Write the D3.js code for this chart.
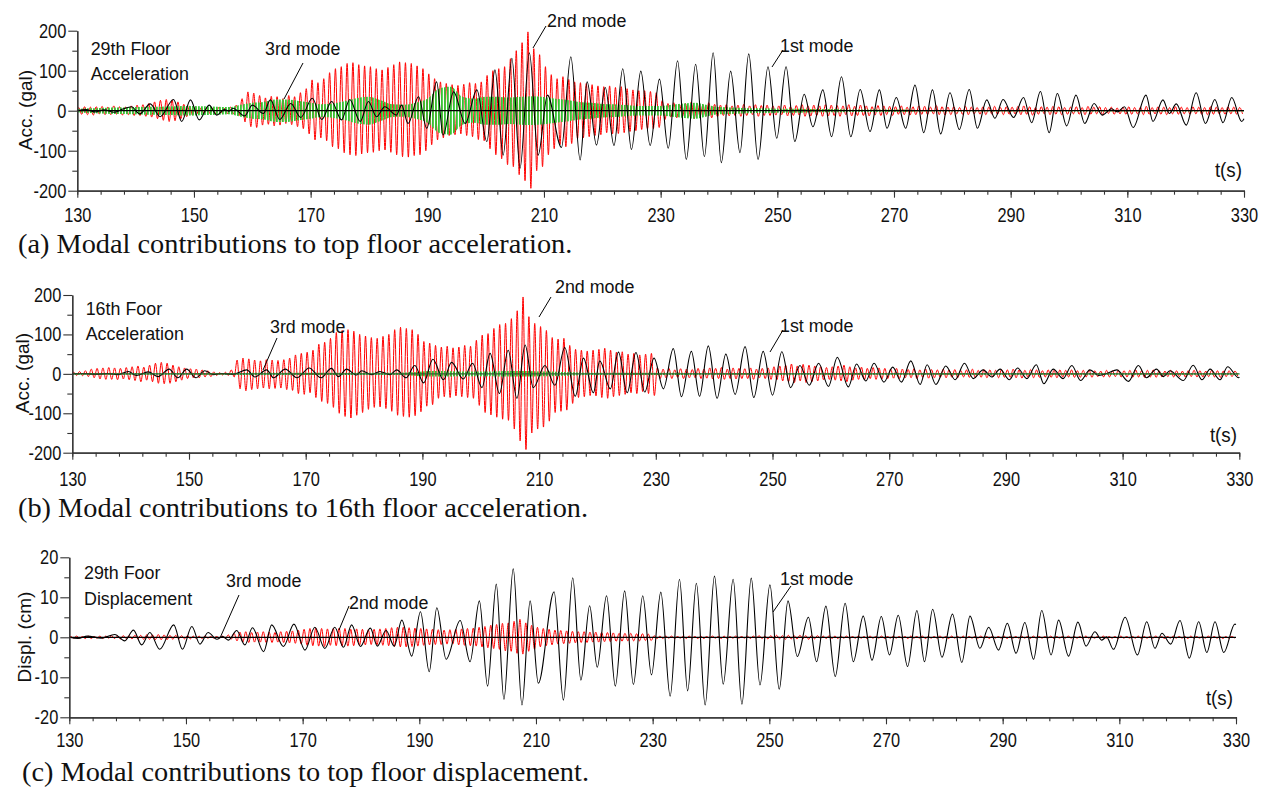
<!DOCTYPE html>
<html lang="en">
<head>
<meta charset="UTF-8">
<title>Modal contributions</title>
<script src="https://cdnjs.cloudflare.com/ajax/libs/d3/7.8.5/d3.min.js"></script>
<style>
  body { margin: 0; background: #fff; }
  svg { display: block; }
  .sans { font-family: "Liberation Sans", Arial, sans-serif; fill: #111; }
  .caption { font-family: "Liberation Serif", "Times New Roman", serif; fill: #111; }
</style>
</head>
<body>
<div id="chart"></div>
<script>
// ---- axes ----
var X_DOMAIN = [130, 330];
var X_LABELS = [130, 150, 170, 190, 210, 230, 250, 270, 290, 310, 330];
var ACC_DOMAIN = [-200, 200];
var ACC_TICKS = [-200, -100, 0, 100, 200];
var ACC_MINOR = [-150, -50, 50, 150];
var DISP_DOMAIN = [-20, 20];
var DISP_TICKS = [-20, -10, 0, 10, 20];
var DISP_MINOR = [-15, -5, 5, 15];

// ---- 1st mode (black): extremes, [t, value] ----
var blackA = [[130,0],[131.5,3],[133,-3],[134.6,2],[136.3,-4],[137.8,4],[139.3,10],[140.7,-8],[142.5,17],[144.2,-15],
  [146.5,28],[147.9,-27],[149.4,27],[150.9,-23],[152.6,14],[153.9,-11],[155.2,3],[156,-1],[156.7,6],[158.7,-13],
  [160,14],[161.9,-7],[163.1,27],[164.7,-22],[166.6,18],[168.3,-17],[170.3,31],[171.9,-22],[173.6,23],[175.3,-23],
  [176.7,28],[178.5,-27],[179.9,23],[181.3,-15],[182.7,10],[184.7,-11],[185.6,14],[186.7,-32],[188.5,35],[189.9,-44],
  [191.6,72],[192.7,-61],[194.5,47],[196.5,-32],[198.5,52],[200.2,-77],[201.6,102],[203,-111],[204.5,131],[205.9,-144],
  [207.5,145],[209,-111],[210.6,39],[213,-92],[214.6,135],[216.2,-123],[217.4,72],[219,-86],[220.5,58],[222,-87],
  [223.5,105],[225,-97],[226.6,99],[228.2,-87],[229.8,79],[231.3,-94],[232.9,125],[234.4,-122],[236,116],[237.5,-115],
  [239,145],[240.4,-130],[242,99],[243.6,-105],[245.1,142],[246.7,-122],[248.4,110],[249.9,-69],[251.5,110],[253,-77],
  [254.6,41],[256.1,-40],[257.8,52],[259.3,-65],[261,85],[262.6,-65],[264.2,53],[265.9,-52],[267.5,52],[268.8,-44],
  [270.4,33],[272,-44],[273.6,64],[275.1,-55],[276.6,52],[278,-58],[279.6,45],[281.2,-47],[282.9,53],[284.3,-44],
  [285.9,27],[287.3,-19],[288.7,28],[290.5,-17],[292.2,33],[293.6,-30],[295.1,48],[296.6,-55],[298,43],[299.6,-38],
  [301.2,39],[302.7,-32],[304.3,18],[305.7,-11],[307.3,5],[308.3,-3],[309.5,10],[311,-42],[313.2,39],[314.4,-27],
  [316.1,27],[317.2,-7],[318.4,17],[320.1,-36],[321.8,45],[323.4,-32],[325,28],[326.4,-30],[327.9,33],[329.6,-27],[330,-20]];

var blackB = [[130,0],[132,1],[134,-1],[136,1],[137.8,-2],[139.6,6],[141,-4],[143,5],[144.7,-7],[146.6,12],
  [148.1,-10],[149.6,12],[151.2,-10],[152.7,8],[154.2,-2],[155.5,1],[157.6,-1],[159.9,10],[161.3,-8],[163.3,10],
  [164.5,-10],[166.5,12],[168.5,-10],[170.6,15],[172.6,-10],[174.4,14],[175.6,-7],[177,12],[178.7,-3],[179.6,8],
  [181.3,-2],[182.7,6],[184.4,-2],[185.6,10],[187.2,-10],[188.7,21],[190.2,-23],[191.8,37],[193.6,-15],[195,29],
  [197,-13],[198.6,27],[200.2,-35],[201.6,52],[203.2,-50],[204.7,60],[206.2,-62],[207.6,73],[209,-35],[211,21],
  [212.7,-29],[214.4,67],[216.2,-57],[217.6,40],[219.3,-48],[220.4,33],[222.2,-38],[223.6,55],[225.1,-48],[226.6,54],
  [228.1,-46],[229.7,40],[231.3,-38],[233,64],[234.4,-58],[236.1,57],[237.5,-57],[239,71],[240.5,-62],[242,50],
  [243.6,-52],[245.3,69],[246.8,-60],[248.4,57],[250,-54],[251.6,56],[253.1,-35],[254.7,21],[256.3,-29],[257.9,27],
  [259.6,-32],[261.1,42],[263,-33],[264.4,25],[266,-18],[267.4,27],[269.1,-21],[270.6,17],[272.1,-21],[273.7,33],
  [275.3,-27],[276.5,23],[278,-27],[279.7,20],[281.3,-15],[282.9,27],[284.4,-12],[286.1,10],[287.6,-8],[289,12],
  [290.6,-15],[292,15],[293.6,-12],[295.2,23],[296.5,-25],[298.1,12],[299.8,-12],[301.3,21],[302.8,-17],[304.4,10],
  [305.9,-4],[307.6,3],[309,10],[311,-19],[312.7,21],[314.1,-10],[315.8,12],[317,-7],[318.1,8],[320.4,-17],
  [322.1,22],[323.6,-15],[325,12],[326.7,-15],[328,18],[329.9,-10],[330,-8]];

var blackC = [[130,0],[131.5,-0.3],[133.1,0.3],[135.5,-0.2],[137.8,0.7],[139.5,-0.9],[141,1.8],[142.4,-1.9],[143.8,1.2],[145.5,-3],
  [147.9,3.1],[149.4,-3],[151,2.7],[152.4,-1.7],[153.8,1.2],[155.3,-0.5],[156.3,0.2],[157.3,-0.7],[158.7,1.7],[160.1,-1.9],
  [161.4,2.4],[163.3,-3.6],[164.7,3.1],[166.7,-2.3],[168.5,3.3],[170.4,-3.2],[172.1,2.5],[173.8,-2.8],[175.5,2.5],[177,-2.5],
  [178.4,3.1],[179.9,-2.3],[181.6,2.3],[182.8,-2.2],[184.3,1.7],[185.7,-2.2],[187,4.3],[188.7,-4.7],[190.2,6.4],[191.7,-8.6],
  [193,7.4],[194.6,-5.5],[197,4.2],[198.7,-6.1],[200.3,9.1],[201.7,-12.2],[203.2,13.3],[204.5,-15.5],[206.1,17.1],[207.6,-16.9],
  [209,9.1],[210.4,-11.5],[213.1,11.4],[214.7,-15.7],[216.3,14.9],[217.7,-10.7],[219.2,7.9],[220.5,-7.5],[222.1,10.4],[223.6,-12.2],
  [225.2,11.6],[226.7,-11.8],[228.3,10.4],[229.8,-9.4],[231.4,11.3],[233,-14.7],[234.6,14.5],[236,-13.4],[237.5,13.5],[239,-16.9],
  [240.6,15.3],[242.1,-11.7],[243.8,14.5],[245.3,-16.7],[246.9,14.8],[248.4,-11.9],[250.1,13.1],[251.7,-13],[253.2,9.1],[254.8,-4.8],
  [256.7,5],[258.1,-6.1],[259.7,7.8],[261.3,-9.8],[263,8.5],[264.4,-6.1],[266.1,5.3],[267.6,-5.7],[269.2,5.2],[270.6,-4.4],
  [272.1,5.5],[273.7,-7.3],[275.3,6.7],[276.6,-6.1],[278,7],[279.6,-5],[281.4,5.8],[283,-6.3],[284.4,5.3],[286.1,-2.75],
  [287.6,2.5],[289.3,-3.2],[290.8,3.5],[292.3,-4],[293.8,3.7],[295.3,-5.5],[296.7,6.7],[298.3,-4.4],[299.6,4.3],[301.3,-4.7],
  [302.9,3.8],[304.3,-2.2],[305.8,1.4],[307,-0.7],[307.8,0.1],[309,-3],[311,5],[313.1,-4.4],[314.7,3.9],[316.1,-2.75],
  [317.3,1],[318.8,-1.7],[320.4,4.2],[322,-5.2],[323.6,3.9],[325,-3.8],[326.4,3.9],[327.9,-3.8],[329.8,3.3],[330,3.2]];

// ---- 2nd mode (red): successive peak / trough per cycle, starting 130.25 s, one every 0.5 s ----
var RED_T0 = 130.25, RED_STEP = 0.5;
var redA = [
  8,-9,10,-10,9,-11,10,-8,11,-10,9,-10,12,-9,10,-11,9,-10,12,-12,
  14,-12,15,-14,18,-16,22,-20,26,-24,28,-27,27,-25,22,-20,16,-15,12,-11,
  10,-9,8,-8,9,-7,7,-8,8,-6,6,-7,9,-8,14,-12,30,-28,47,-40,
  44,-42,38,-36,32,-34,36,-38,35,-36,30,-32,38,-35,35,-40,45,-45,55,-58,
  77,-73,70,-68,80,-75,95,-90,105,-95,110,-105,118,-110,120,-112,115,-108,112,-105,
  110,-104,105,-100,102,-98,108,-104,115,-110,122,-115,120,-116,118,-112,112,-110,105,-100,
  92,-85,80,-73,72,-68,68,-62,65,-60,63,-58,66,-62,70,-65,68,-72,72,-75,
  88,-95,100,-110,105,-120,110,-135,130,-140,150,-160,170,-175,197,-194,155,-150,140,-140,
  110,-110,90,-95,80,-85,85,-90,78,-82,72,-70,70,-68,68,-65,65,-62,62,-60,
  60,-55,62,-58,58,-57,60,-55,55,-52,52,-50,50,-47,50,-45,48,-45,45,-42,
  25,-22,18,-16,20,-18,15,-14,18,-16,22,-20,18,-15,15,-14,20,-18,16,-15,
  14,-12,15,-13,12,-12,14,-14,16,-12,12,-10,15,-14,13,-12,14,-12,12,-11,
  12,-10,14,-13,10,-12,13,-11,15,-14,12,-13,14,-12,12,-14,15,-13,14,-12,
  13,-14,12,-10,15,-13,11,-12,14,-12,12,-13,10,-11,13,-12,12,-10,11,-12,
  10,-9,12,-10,9,-11,10,-10,12,-9,11,-10,9,-8,13,-10,10,-11,9,-10,
  10,-8,8,-9,11,-10,9,-8,8,-9,10,-10,9,-8,11,-9,8,-10,10,-9,
  9,-8,11,-10,12,-9,10,-11,8,-9,10,-8,9,-10,11,-9,10,-10,8,-9,
  9,-8,10,-9,8,-10,11,-9,9,-8,10,-10,8,-7,9,-9,7,-8,9,-9,
  10,-9,8,-8,9,-10,11,-9,8,-8,10,-9,9,-10,8,-8,10,-9,9,-8,
  8,-9,10,-8,9,-9,8,-10,10,-9,9,-8,8,-9,10,-8,9,-9,8,-8];

var redB = [
  4,-4,6,-5,8,-7,12,-10,14,-13,15,-14,16,-14,15,-15,14,-13,16,-15,
  18,-17,20,-20,17,-16,22,-20,27,-24,29,-25,27,-24,22,-20,18,-16,15,-12,
  13,-10,12,-10,10,-8,8,-7,5,-4,3,-3,4,-4,10,-8,35,-38,40,-43,
  38,-40,35,-38,33,-36,36,-38,35,-37,34,-36,36,-40,40,-42,48,-50,52,-52,
  55,-48,60,-60,75,-70,80,-75,90,-85,105,-100,110,-108,112,-112,108,-105,100,-98,
  96,-90,92,-85,90,-84,95,-88,100,-95,112,-105,118,-108,115,-110,112,-106,100,-96,
  82,-82,78,-78,72,-62,68,-58,70,-60,66,-56,68,-58,72,-60,70,-62,85,-80,
  98,-98,102,-104,115,-110,125,-115,128,-118,140,-140,160,-170,195,-192,145,-150,128,-140,
  120,-135,110,-120,92,-98,88,-95,90,-92,72,-75,62,-60,60,-58,58,-55,60,-56,
  62,-60,65,-62,60,-58,55,-55,56,-52,50,-48,52,-50,48,-45,50,-50,52,-55,
  15,-12,12,-10,14,-12,10,-9,13,-12,12,-10,11,-10,14,-12,12,-11,15,-13,
  14,-12,16,-14,12,-12,15,-13,14,-12,13,-12,15,-14,12,-10,14,-12,15,-14,
  18,-15,20,-18,22,-20,25,-22,20,-18,24,-22,22,-20,20,-18,18,-15,16,-14,
  18,-16,20,-18,22,-20,18,-16,15,-14,17,-15,14,-12,16,-14,15,-13,14,-12,
  12,-11,14,-12,12,-10,11,-10,13,-12,10,-9,12,-11,11,-10,10,-9,12,-10,
  10,-9,11,-10,9,-8,10,-9,12,-10,9,-9,11,-10,10,-8,9,-10,11,-9,
  10,-9,12,-10,10,-11,9,-8,11,-10,10,-9,8,-8,10,-9,9,-10,10,-8,
  9,-8,10,-9,8,-9,9,-8,10,-9,8,-7,7,-8,9,-8,8,-7,9,-8,
  8,-8,9,-9,10,-8,8,-9,9,-8,10,-9,8,-8,7,-7,9,-8,8,-7,
  7,-8,8,-7,9,-8,8,-8,7,-7,9,-8,8,-9,7,-7,8,-7,7,-6];

var redC = [
  .2,-.2,.3,-.2,.2,-.3,.3,-.3,.2,-.2,.3,-.3,.3,-.2,.4,-.3,.3,-.4,.4,-.3,
  .4,-.4,.5,-.4,.5,-.5,.6,-.5,.6,-.6,.7,-.6,.6,-.6,.5,-.5,.5,-.4,.4,-.4,
  .4,-.4,.3,-.3,.3,-.3,.3,-.2,.2,-.2,.2,-.2,.3,-.3,.6,-.5,1,-.9,1.3,-1.2,
  1.4,-1.3,1.2,-1.2,1.3,-1.2,1.4,-1.3,1.3,-1.3,1.2,-1.2,1.4,-1.3,1.5,-1.4,1.6,-1.5,1.8,-1.7,
  2,-2,2.2,-2.1,2.3,-2.2,2.2,-2.3,2.1,-2,2.2,-2.1,2.3,-2.2,2.2,-2.2,2,-2.1,2.1,-2,
  2,-1.9,1.9,-1.8,2,-1.9,2.1,-2,2.2,-2.1,2.4,-2.3,2.5,-2.4,2.5,-2.4,2.4,-2.3,2.3,-2.2,
  2.2,-2,2.1,-1.9,2,-1.8,1.9,-1.8,1.8,-1.7,1.9,-1.7,2,-1.9,2.1,-2,2.2,-2.1,2.3,-2.2,
  2.5,-2.4,2.7,-2.6,3,-2.8,3.2,-3,3.5,-3.4,3.6,-3.5,4,-4,4.5,-4.2,3.6,-3.5,3,-3,
  2.5,-2.4,2.2,-2.1,2,-1.9,1.8,-1.7,1.7,-1.6,1.6,-1.5,1.5,-1.4,1.4,-1.3,1.4,-1.3,1.3,-1.2,
  1.3,-1.2,1.2,-1.1,1.2,-1.1,1.1,-1,1,-1,1,-.9,1,-.9,.9,-.9,.9,-.8,.8,-.8,
  .4,-.3,.3,-.3,.3,-.2,.3,-.3,.2,-.2,.3,-.3,.3,-.2,.2,-.3,.3,-.3,.2,-.2,
  .3,-.2,.2,-.3,.3,-.3,.2,-.2,.3,-.2,.2,-.2,.3,-.3,.3,-.2,.4,-.3,.3,-.4,
  .4,-.3,.5,-.4,.4,-.5,.5,-.4,.4,-.4,.5,-.4,.4,-.5,.5,-.4,.4,-.3,.3,-.3,
  .4,-.3,.3,-.3,.3,-.2,.3,-.3,.2,-.2,.3,-.2,.2,-.3,.3,-.2,.2,-.2,.3,-.3,
  .2,-.2,.3,-.2,.2,-.2,.2,-.3,.3,-.2,.2,-.2,.3,-.3,.2,-.2,.2,-.2,.3,-.2,
  .2,-.3,.3,-.2,.2,-.2,.3,-.3,.2,-.2,.2,-.2,.3,-.2,.2,-.3,.3,-.2,.2,-.2,
  .3,-.3,.2,-.2,.2,-.2,.3,-.2,.2,-.3,.3,-.2,.2,-.2,.2,-.2,.3,-.3,.2,-.2,
  .2,-.2,.3,-.2,.2,-.2,.2,-.3,.3,-.2,.2,-.2,.2,-.2,.3,-.2,.2,-.2,.2,-.3,
  .3,-.2,.2,-.2,.2,-.2,.3,-.3,.2,-.2,.2,-.2,.3,-.2,.2,-.3,.2,-.2,.3,-.2,
  .2,-.2,.2,-.3,.3,-.2,.2,-.2,.2,-.2,.3,-.2,.2,-.2,.2,-.3,.2,-.2,.2,-.2];

// ---- 3rd mode (green): amplitude of the dense band, one value every 2 s from 130 s ----
var GREEN_T0 = 130, GREEN_STEP = 2;
var greenA = [
  4,6,7,8,8,9,10,10,11,12,
  12,11,10,9,15,20,22,28,28,24,
  20,16,18,24,32,35,26,16,15,20,
  30,55,60,35,30,35,35,33,35,36,
  34,30,27,22,20,17,16,14,12,12,
  12,15,18,20,14,9,8,7,6,6,
  5,5,5,4,4,4,3,3,3,3,
  3,3,2,2,2,2,2,2,2,2,
  2,2,2,2,2,2,2,2,2,2,
  2,2,2,2,2,2,2,2,2,2,
  2];
var greenB = [
  2,2,2,2,2,2,2,2,2,2,
  2,2,2,2,2,3,3,3,3,3,
  3,3,3,3,3,3,3,3,3,4,
  6,7,7,6,6,6,6,7,7,7,
  6,6,5,4,3,3,3,3,3,3,
  3,3,3,2,2,2,2,2,2,2,
  2,2,2,2,2,2,2,2,2,2,
  2,2,2,2,2,2,2,2,2,2,
  2,2,2,2,2,2,2,2,2,2,
  2,2,2,2,2,2,2,2,2,2,
  2];

// ---- texts ----
var CAPTIONS = ['(a) Modal contributions to top floor acceleration.',
                '(b) Modal contributions to 16th floor acceleration.',
                '(c) Modal contributions to top floor displacement.'];
var Y_LABELS = ['Acc. (gal)', 'Acc. (gal)', 'Displ. (cm)'];
var TITLES = [['29th Floor', 'Acceleration'], ['16th Foor', 'Acceleration'], ['29th Foor', 'Displacement']];

var W = 1267, H = 789;
var TICK_SX = 0.82, NOTE_SX = 0.94, CAPTION_SX = 1.03;

var svg = d3.select('#chart').append('svg').attr('width', W).attr('height', H);
svg.append('rect').attr('width', W).attr('height', H).attr('fill', '#fff');

// hatch used for the dense 3rd-mode band
svg.append('defs').append('pattern')
  .attr('id', 'greenHatch').attr('patternUnits', 'userSpaceOnUse')
  .attr('width', 3).attr('height', 10)
  .append('rect').attr('width', 1.8).attr('height', 10).attr('fill', '#35c435');

// condensed look: squeeze text horizontally around its anchor point
function squeeze(sel, sx) {
  sel.each(function () {
    var t = d3.select(this);
    var tx = +t.attr('x') || 0, ty = +t.attr('y') || 0;
    t.attr('x', 0).attr('y', 0)
      .attr('transform', 'translate(' + tx + ',' + ty + ') scale(' + sx + ',1)');
  });
}

// layout of the three panels
var panels = [
  { black: blackA, red: redA, green: greenA, domain: ACC_DOMAIN, major: ACC_TICKS, minor: ACC_MINOR,
    left: 77.3, right: 1244, top: 30.7, bottom: 190.7, xPad: 10.5, greenZero: false,
    ylab: [25, 110], title: [90.7, 55, 80], caption: [18, 253], ts: [1242, 177],
    notes: [['3rd mode', 265, 55, 303, 63, 284, 99], ['2nd mode', 547, 27, 546, 26, 533, 48], ['1st mode', 780, 52, 783, 50, 772, 67]] },
  { black: blackB, red: redB, green: greenB, domain: ACC_DOMAIN, major: ACC_TICKS, minor: ACC_MINOR,
    left: 72.3, right: 1239.3, top: 295, bottom: 452.7, xPad: 12, greenZero: true,
    ylab: [22, 373], title: [85.7, 315, 340], caption: [18, 517], ts: [1237, 442],
    notes: [['3rd mode', 270, 333, 277, 338, 263, 370], ['2nd mode', 555, 293, 551, 297, 539, 317], ['1st mode', 780, 332, 783, 330, 770, 352]] },
  { black: blackC, red: redC, green: null, domain: DISP_DOMAIN, major: DISP_TICKS, minor: DISP_MINOR,
    left: 69.3, right: 1236, top: 557.3, bottom: 717.3, xPad: 8, greenZero: false,
    ylab: [24, 637], title: [84, 579, 605], caption: [22, 781], ts: [1233, 705],
    notes: [['3rd mode', 226, 587, 239, 595, 220, 638], ['2nd mode', 349, 609, 349, 606, 339, 630], ['1st mode', 780, 585, 791, 586, 773, 612]] }
];

panels.forEach(function (p, k) {
  var x = d3.scaleLinear().domain(X_DOMAIN).range([p.left, p.right]);
  var y = d3.scaleLinear().domain(p.domain).range([p.bottom, p.top]);
  var g = svg.append('g');

  var line = d3.line()
    .x(function (d) { return x(d[0]); })
    .y(function (d) { return y(d[1]); })
    .curve(d3.curveMonotoneX);

  // red 2nd mode
  var redPts = [[130, 0]].concat(p.red.map(function (v, i) { return [RED_T0 + i * RED_STEP, v]; }));
  g.append('path').attr('d', line(redPts))
    .attr('fill', 'none').attr('stroke', '#ff0000').attr('stroke-width', 1);

  // green 3rd mode band
  if (p.green) {
    var greenPts = p.green.map(function (v, i) { return [GREEN_T0 + i * GREEN_STEP, v]; });
    var area = d3.area()
      .x(function (d) { return x(d[0]); })
      .y0(function (d) { return y(-d[1]); })
      .y1(function (d) { return y(d[1]); })
      .curve(d3.curveMonotoneX);
    g.append('path').attr('d', area(greenPts)).attr('fill', 'url(#greenHatch)');
  }

  // black 1st mode
  g.append('path').attr('d', line(p.black))
    .attr('fill', 'none').attr('stroke', '#000').attr('stroke-width', 1.1);

  // zero line
  g.append('line')
    .attr('x1', x(X_DOMAIN[0])).attr('x2', x(X_DOMAIN[1]))
    .attr('y1', y(0)).attr('y2', y(0))
    .attr('stroke', p.greenZero ? '#2f5f2f' : '#000').attr('stroke-width', 1.2);

  // y axis
  g.append('g').attr('transform', 'translate(' + p.left + ',0)')
    .call(d3.axisLeft(y).tickValues(p.major).tickSize(9).tickSizeOuter(0).tickPadding(2)
      .tickFormat(function (d) { return String(d); }));
  g.append('g').attr('transform', 'translate(' + p.left + ',0)')
    .call(d3.axisLeft(y).tickValues(p.minor).tickSize(5).tickSizeOuter(0).tickFormat(''));

  // x axis
  g.append('g').attr('transform', 'translate(0,' + p.bottom + ')')
    .call(d3.axisBottom(x).tickValues(X_LABELS).tickSize(7).tickSizeOuter(0).tickPadding(p.xPad)
      .tickFormat(function (d) { return String(d); }));
  g.append('g').attr('transform', 'translate(0,' + p.bottom + ')')
    .call(d3.axisBottom(x).tickValues(d3.range(130, 331, 4)).tickSize(4).tickSizeOuter(0).tickFormat(''));

  g.selectAll('.domain').attr('stroke', '#333').attr('stroke-width', 1.2);
  g.selectAll('.tick line').attr('stroke', '#333').attr('stroke-width', 1.1);
  var tickText = g.selectAll('.tick text').attr('class', 'sans').attr('font-size', 20)
    .attr('font-family', '"Liberation Sans", Arial, sans-serif').attr('fill', '#111');
  squeeze(tickText, TICK_SX);

  // y label
  g.append('text').attr('class', 'sans')
    .attr('transform', 'translate(' + p.ylab[0] + ',' + p.ylab[1] + ') rotate(-90)')
    .attr('text-anchor', 'middle').attr('dy', '0.35em').attr('font-size', 19)
    .text(Y_LABELS[k]);

  // title
  var notes = [];
  notes.push(g.append('text').attr('class', 'sans').attr('x', p.title[0]).attr('y', p.title[1])
    .attr('font-size', 19).text(TITLES[k][0]).node());
  notes.push(g.append('text').attr('class', 'sans').attr('x', p.title[0]).attr('y', p.title[2])
    .attr('font-size', 19).text(TITLES[k][1]).node());

  // mode notes with leader lines
  p.notes.forEach(function (n) {
    notes.push(g.append('text').attr('class', 'sans').attr('x', n[1]).attr('y', n[2])
      .attr('font-size', 19).text(n[0]).node());
    g.append('line').attr('x1', n[3]).attr('y1', n[4]).attr('x2', n[5]).attr('y2', n[6])
      .attr('stroke', '#000').attr('stroke-width', 1);
  });

  // t(s)
  notes.push(g.append('text').attr('class', 'sans').attr('x', p.ts[0]).attr('y', p.ts[1])
    .attr('text-anchor', 'end').attr('font-size', 20).text('t(s)').node());
  squeeze(d3.selectAll(notes), NOTE_SX);

  // caption
  var cap = svg.append('text').attr('class', 'caption').attr('x', p.caption[0]).attr('y', p.caption[1])
    .attr('font-size', 27.5).text(CAPTIONS[k]);
  squeeze(cap, CAPTION_SX);
});
</script>
</body>
</html>
